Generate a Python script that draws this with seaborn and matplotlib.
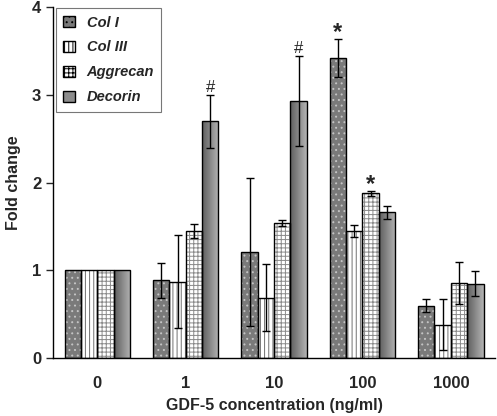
import numpy as np
import pandas as pd
import matplotlib
matplotlib.use("Agg")
import matplotlib.pyplot as plt
import seaborn as sns
from matplotlib.patches import Rectangle, Patch

concentrations = ["0", "1", "10", "100", "1000"]
markers = ["Col I", "Col III", "Aggrecan", "Decorin"]

col1 = [1.0, 0.89, 1.21, 3.42, 0.60]
col3 = [1.0, 0.87, 0.69, 1.45, 0.38]
aggrecan = [1.0, 1.45, 1.54, 1.88, 0.86]
decorin = [1.0, 2.70, 2.93, 1.66, 0.85]

col1_err = [0, 0.20, 0.84, 0.22, 0.07]
col3_err = [0, 0.53, 0.38, 0.07, 0.29]
aggrecan_err = [0, 0.08, 0.03, 0.03, 0.24]
decorin_err = [0, 0.30, 0.51, 0.07, 0.14]

# significance marks: (marker, concentration, symbol)
sig_marks = [("Decorin", "1", "#"), ("Decorin", "10", "#"),
             ("Col I", "100", "*"), ("Aggrecan", "100", "*")]

values = {"Col I": col1, "Col III": col3, "Aggrecan": aggrecan, "Decorin": decorin}
errors = {"Col I": col1_err, "Col III": col3_err, "Aggrecan": aggrecan_err, "Decorin": decorin_err}

rows = []
for m in markers:
    for i, c in enumerate(concentrations):
        rows.append({"conc": c, "marker": m, "fold": values[m][i], "err": errors[m][i]})
df = pd.DataFrame(rows)

sns.set_style("white")
plt.rcParams["font.family"] = ["Liberation Sans", "DejaVu Sans"]
plt.rcParams["font.weight"] = "bold"
plt.rcParams["hatch.linewidth"] = 0.7

styles = {
    "Col I": dict(face="#7a7a7a", hatch="...", hcol="#c4c4c4"),
    "Col III": dict(face="white", hatch="||||", hcol="#707070"),
    "Aggrecan": dict(face="white", hatch="++++", hcol="#8a8a8a"),
    "Decorin": dict(face="#8c8c8c", hatch="", hcol="#8c8c8c"),
}

fig = plt.figure(figsize=(4.97, 4.16), dpi=100)
ax = fig.add_axes([0.107, 0.139, 0.889, 0.844])

sns.barplot(data=df, x="conc", y="fold", hue="marker", order=concentrations,
            hue_order=markers, width=0.74, errorbar=None, ax=ax, legend=False)

grad = np.linspace(0, 1, 64).reshape(1, -1)
gcmap = matplotlib.colors.LinearSegmentedColormap.from_list("g", ["#5e5e5e", "#b4b4b4"])
for m, cont in zip(markers, ax.containers):
    st = styles[m]
    for i, bar in enumerate(cont.patches):
        bar.set_facecolor(st["face"])
        bar.set_edgecolor(st["hcol"])
        bar.set_hatch(st["hatch"])
        bar.set_linewidth(0)
        x0, y0 = bar.get_x(), bar.get_y()
        w, h = bar.get_width(), bar.get_height()
        if m == "Decorin":
            im = ax.imshow(grad, cmap=gcmap, extent=[x0, x0 + w, y0, y0 + h],
                           aspect="auto", zorder=bar.get_zorder() + 0.1)
            im.set_clip_path(bar)
        ax.add_patch(Rectangle((x0, y0), w, h, fill=False, edgecolor="black",
                               linewidth=1.0, zorder=bar.get_zorder() + 0.2))
        e = errors[m][i]
        if e > 0:
            ax.errorbar(x0 + w / 2, h, yerr=e, fmt="none", ecolor="black",
                        elinewidth=1, capsize=3, capthick=1, zorder=5)

for m, c, sym in sig_marks:
    mi = markers.index(m)
    ci = concentrations.index(c)
    bar = ax.containers[mi].patches[ci]
    top = values[m][ci] + errors[m][ci]
    ax.text(bar.get_x() + bar.get_width() / 2, top - (0.06 if sym == "*" else 0.0), sym,
            ha="center", va="bottom", fontsize=17 if sym == "*" else 12,
            fontweight="bold" if sym == "*" else "normal")

ax.set_xlim(-0.5, 4.5)
ax.set_ylim(0, 4)
ax.set_yticks([0, 1, 2, 3, 4])
ax.set_xticks([-0.5, 0.5, 1.5, 2.5, 3.5, 4.5], minor=True)
ax.set_xticks(range(5))
ax.set_xticklabels(concentrations)
ax.tick_params(axis="x", which="major", length=0, pad=13, labelsize=12)
ax.tick_params(axis="x", which="minor", length=5, direction="out", width=1)
ax.tick_params(axis="y", length=5, direction="out", width=1, labelsize=12, left=True)
sns.despine(ax=ax)
for s in ["left", "bottom"]:
    ax.spines[s].set_color("black")
    ax.spines[s].set_linewidth(1)

ax.set_xlabel("GDF-5 concentration (ng/ml)", fontsize=11.5, fontweight="bold", labelpad=5)
ax.set_ylabel("Fold change", fontsize=11.5, fontweight="bold", labelpad=8)

handles = []
for m in markers:
    st = styles[m]
    handles.append(Patch(facecolor=st["face"], edgecolor="black", hatch=st["hatch"], linewidth=1))
leg = ax.legend(handles, markers, loc="upper left", bbox_to_anchor=(0.0, 1.005),
                borderaxespad=0.2, frameon=True, fancybox=False, edgecolor="#555555",
                handlelength=0.8, handleheight=0.8, labelspacing=0.75, borderpad=0.5,
                prop={"family": "Liberation Sans", "weight": "bold", "style": "italic", "size": 10.5})
leg.get_frame().set_linewidth(0.8)

fig.savefig("out.png", dpi=100)
